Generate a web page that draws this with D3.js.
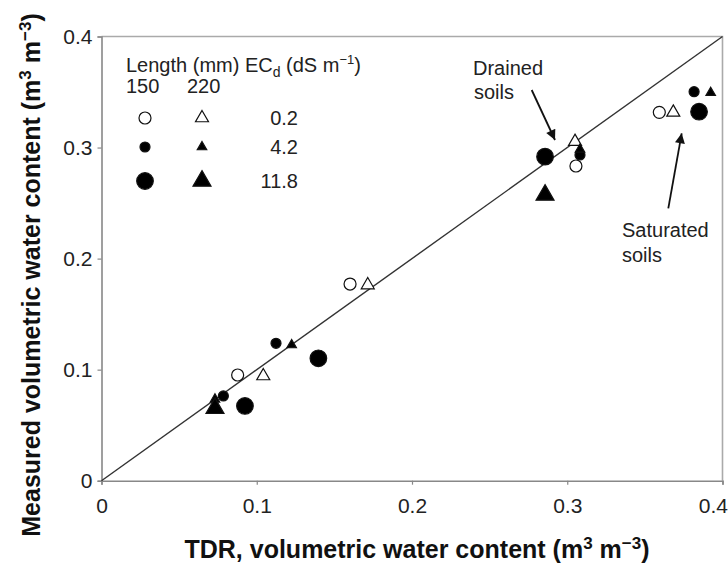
<!DOCTYPE html>
<html>
<head>
<meta charset="utf-8">
<script src="https://cdn.jsdelivr.net/npm/d3@7"></script>
<style>
  body { margin: 0; background: #fff; }
  svg { display: block; font-family: "Liberation Sans", Arial, Helvetica, sans-serif; }
</style>
</head>
<body>
<div id="chart"></div>
<script>
// TDR vs measured volumetric water content, [tdr, measured]
const open150 = [[0.0877, 0.0952], [0.1601, 0.1771], [0.3056, 0.2834], [0.3593, 0.3317]];
const open220 = [[0.1042, 0.0943], [0.1715, 0.1762], [0.3050, 0.3053], [0.3683, 0.3317]];
const mid150 = [[0.0785, 0.0763], [0.1124, 0.1237], [0.3082, 0.2933], [0.3817, 0.3503]];
const mid220 = [[0.0731, 0.0733], [0.1225, 0.1222], [0.3082, 0.2984], [0.3924, 0.3494]];
const high150 = [[0.0924, 0.0673], [0.1397, 0.1102], [0.2857, 0.2918], [0.3849, 0.3323]];
const high220 = [[0.0731, 0.0652], [0.2857, 0.2573]];
const ecLabels = ["0.2", "4.2", "11.8"];
const lengthLabels = ["150", "220"];
const tickValues = [0, 0.1, 0.2, 0.3, 0.4];

const width = 728;
const height = 573;
const margin = { top: 36.5, right: 5.5, bottom: 92.3, left: 101.5 };

const svg = d3.select("#chart").append("svg")
  .attr("width", width)
  .attr("height", height);

const x = d3.scaleLinear().domain([0, 0.4]).range([margin.left, width - margin.right]);
const y = d3.scaleLinear().domain([0, 0.4]).range([height - margin.bottom, margin.top]);

// marker styles per series
const triArea = w => Math.sqrt(3) / 4 * w * w;
const circArea = r => Math.PI * r * r;
const styles = [
  { data: open150, type: d3.symbolCircle, size: circArea(6), fill: "#fff" },
  { data: open220, type: d3.symbolTriangle, size: triArea(13), fill: "#fff" },
  { data: mid150, type: d3.symbolCircle, size: circArea(5), fill: "#000" },
  { data: mid220, type: d3.symbolTriangle, size: triArea(9.5), fill: "#000" },
  { data: high150, type: d3.symbolCircle, size: circArea(8.3), fill: "#000" },
  { data: high220, type: d3.symbolTriangle, size: triArea(18), fill: "#000" }
];

// frame (top / right)
svg.append("path")
  .attr("d", `M${x(0)},${y(0.4)}H${x(0.4)}V${y(0)}`)
  .attr("fill", "none")
  .attr("stroke", "#aaa")
  .attr("stroke-width", 1.6);

function xAxis(g) {
  g.attr("transform", `translate(0,${y(0)})`)
    .call(d3.axisBottom(x).tickValues(tickValues)
      .tickFormat(d => d === 0 ? "0" : d.toFixed(1))
      .tickSize(4).tickPadding(13));
  // last label sits inside the figure edge
  g.selectAll(".tick text").filter(d => d === 0.4)
    .attr("text-anchor", "end").attr("dx", 5);
}
function yAxis(g) {
  g.attr("transform", `translate(${x(0)},0)`)
    .call(d3.axisLeft(y).tickValues(tickValues)
      .tickFormat(d => d === 0 ? "0" : d.toFixed(1))
      .tickSize(4).tickPadding(5));
}
[svg.append("g").call(xAxis), svg.append("g").call(yAxis)].forEach(g => {
  g.selectAll(".domain").attr("stroke", "#888").attr("stroke-width", 1.6);
  g.selectAll(".tick line").attr("stroke", "#888").attr("stroke-width", 1.2);
  g.selectAll(".tick text")
    .attr("font-size", "21px")
    .attr("font-family", "Liberation Sans, Arial, sans-serif")
    .attr("fill", "#222");
});

// 1:1 line
svg.append("line")
  .attr("x1", x(0)).attr("y1", y(0))
  .attr("x2", x(0.4)).attr("y2", y(0.4))
  .attr("stroke", "#333")
  .attr("stroke-width", 1.4);

// points
styles.forEach(s => {
  svg.append("g")
    .selectAll("path")
    .data(s.data)
    .join("path")
    .attr("transform", d => `translate(${x(d[0])},${y(d[1])})`)
    .attr("d", d3.symbol().type(s.type).size(s.size))
    .attr("fill", s.fill)
    .attr("stroke", "#111")
    .attr("stroke-width", 1.2);
});

// legend
const legend = svg.append("g").attr("font-size", "20px").attr("fill", "#222");
const head = legend.append("text").attr("x", 126).attr("y", 72);
head.append("tspan").text("Length (mm) EC");
head.append("tspan").attr("font-size", "14px").attr("dy", 5).text("d");
head.append("tspan").attr("dy", -5).text(" (dS m");
head.append("tspan").attr("font-size", "13px").attr("dy", -8).text("\u22121");
head.append("tspan").attr("dy", 8).text(")");
legend.selectAll("text.len")
  .data(lengthLabels)
  .join("text")
  .attr("class", "len")
  .attr("x", (d, i) => [126, 187][i])
  .attr("y", 93)
  .text(d => d);

const rowY = [118, 147, 181];
ecLabels.forEach((lab, i) => {
  const c = styles[i * 2], t = styles[i * 2 + 1];
  legend.append("path")
    .attr("transform", `translate(145,${rowY[i]})`)
    .attr("d", d3.symbol().type(c.type).size(c.size))
    .attr("fill", c.fill).attr("stroke", "#111").attr("stroke-width", 1.2);
  legend.append("path")
    .attr("transform", `translate(202,${rowY[i]})`)
    .attr("d", d3.symbol().type(t.type).size(t.size))
    .attr("fill", t.fill).attr("stroke", "#111").attr("stroke-width", 1.2);
  legend.append("text")
    .attr("x", 298).attr("y", rowY[i] + 6.5)
    .attr("text-anchor", "end")
    .text(lab);
});

// annotations
const defs = svg.append("defs");
defs.append("marker")
  .attr("id", "head")
  .attr("viewBox", "0 0 10 10")
  .attr("refX", 10).attr("refY", 5)
  .attr("markerWidth", 14).attr("markerHeight", 10)
  .attr("markerUnits", "userSpaceOnUse")
  .attr("orient", "auto")
  .append("path")
  .attr("d", "M0,0L10,5L0,10Z")
  .attr("fill", "#111");

const notes = svg.append("g").attr("font-size", "20px").attr("fill", "#222");
notes.append("text").attr("x", 473).attr("y", 75).text("Drained");
notes.append("text").attr("x", 474).attr("y", 99).text("soils");
notes.append("text").attr("x", 622).attr("y", 237).text("Saturated");
notes.append("text").attr("x", 622).attr("y", 262).text("soils");
notes.append("line")
  .attr("x1", 531.7).attr("y1", 90).attr("x2", 555).attr("y2", 140)
  .attr("stroke", "#111").attr("stroke-width", 1.8)
  .attr("marker-end", "url(#head)");
notes.append("line")
  .attr("x1", 668.3).attr("y1", 208.3).attr("x2", 681.7).attr("y2", 133.3)
  .attr("stroke", "#111").attr("stroke-width", 1.8)
  .attr("marker-end", "url(#head)");

// axis titles
const xt = svg.append("text")
  .attr("x", 417).attr("y", 558)
  .attr("text-anchor", "middle")
  .attr("font-size", "25px").attr("font-weight", "bold").attr("fill", "#111");
xt.append("tspan").text("TDR, volumetric water content (m");
xt.append("tspan").attr("font-size", "17px").attr("dy", -9).text("3");
xt.append("tspan").attr("dy", 9).text(" m");
xt.append("tspan").attr("font-size", "17px").attr("dy", -9).text("\u22123");
xt.append("tspan").attr("dy", 9).text(")");

const yt = svg.append("text")
  .attr("transform", "translate(40,275) rotate(-90)")
  .attr("text-anchor", "middle")
  .attr("font-size", "25px").attr("font-weight", "bold").attr("fill", "#111");
yt.append("tspan").text("Measured volumetric water content (m");
yt.append("tspan").attr("font-size", "17px").attr("dy", -9).text("3");
yt.append("tspan").attr("dy", 9).text(" m");
yt.append("tspan").attr("font-size", "17px").attr("dy", -9).text("\u22123");
yt.append("tspan").attr("dy", 9).text(")");
</script>
</body>
</html>
